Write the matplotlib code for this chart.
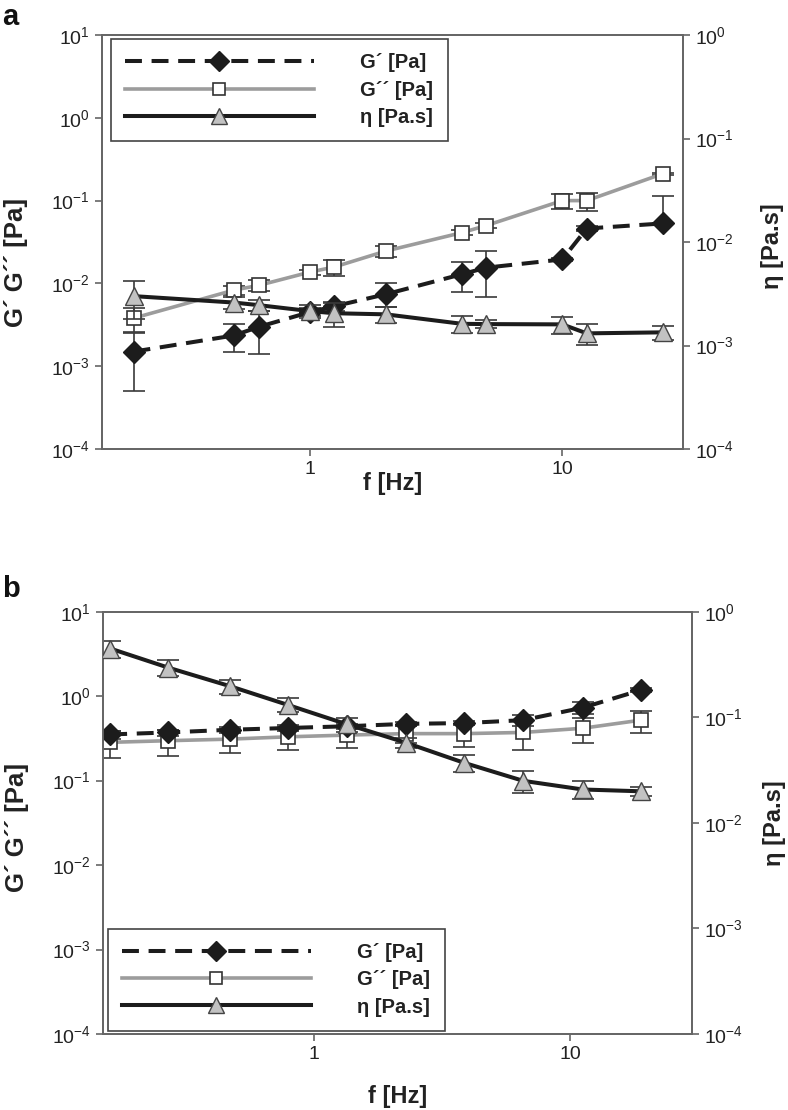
import math
import matplotlib
matplotlib.use('Agg')
import matplotlib.pyplot as plt
from matplotlib.lines import Line2D
from matplotlib.ticker import FixedLocator, FuncFormatter, NullLocator

plt.rcParams['font.family'] = ['Liberation Sans', 'DejaVu Sans']
plt.rcParams['mathtext.fontset'] = 'custom'
plt.rcParams['mathtext.rm'] = 'Liberation Sans'
plt.rcParams['mathtext.it'] = 'Liberation Sans:italic'
plt.rcParams['mathtext.bf'] = 'Liberation Sans:bold'

# ---------------- Panel a data ----------------
freq_a = [0.2, 0.5, 0.63, 1.0, 1.25, 2.0, 4.0, 5.0, 10.0, 12.5, 25.0]
gp_a = [1.5e-3, 2.35e-3, 3.0e-3, 4.5e-3, 5.3e-3, 7.4e-3, 1.29e-2, 1.55e-2, 1.95e-2, 4.6e-2, 5.3e-2]
gp_a_err_lo = [1.0e-3, 0.85e-3, 1.6e-3, 0.5e-3, 0.6e-3, 2.2e-3, 5.0e-3, 8.7e-3, 1.0e-3, 3.0e-3, 0.0]
gp_a_err_hi = [1.0e-3, 0.85e-3, 1.6e-3, 0.5e-3, 0.6e-3, 2.8e-3, 5.0e-3, 9.0e-3, 1.0e-3, 3.0e-3, 6.0e-2]
gpp_a = [3.8e-3, 8.3e-3, 9.5e-3, 1.37e-2, 1.58e-2, 2.46e-2, 4.1e-2, 5.0e-2, 0.10, 0.10, 0.211]
gpp_a_err = [1.2e-3, 1.0e-3, 1.5e-3, 1.0e-3, 3.5e-3, 4.0e-3, 3.0e-3, 3.0e-3, 2.0e-2, 2.5e-2, 5.0e-3]
eta_a = [3.0e-3, 2.6e-3, 2.45e-3, 2.15e-3, 2.05e-3, 2.0e-3, 1.62e-3, 1.61e-3, 1.6e-3, 1.31e-3, 1.34e-3]
eta_a_err = [1.2e-3, 0.35e-3, 0.3e-3, 0.3e-3, 0.55e-3, 0.35e-3, 0.3e-3, 0.15e-3, 0.3e-3, 0.3e-3, 0.2e-3]

# ---------------- Panel b data ----------------
freq_b = [0.16, 0.27, 0.47, 0.79, 1.34, 2.28, 3.86, 6.56, 11.2, 18.9]
gp_b = [0.352, 0.372, 0.40, 0.42, 0.44, 0.47, 0.48, 0.52, 0.73, 1.18]
gp_b_err = [0.04, 0.03, 0.03, 0.03, 0.03, 0.03, 0.03, 0.08, 0.12, 0.06]
gpp_b = [0.284, 0.297, 0.31, 0.33, 0.346, 0.36, 0.36, 0.372, 0.417, 0.52]
gpp_b_err = [0.10, 0.10, 0.10, 0.10, 0.10, 0.08, 0.11, 0.14, 0.14, 0.15]
eta_b = [0.448, 0.295, 0.197, 0.131, 0.086, 0.0575, 0.037, 0.025, 0.0207, 0.0199]
eta_b_err = [0.08, 0.05, 0.03, 0.02, 0.013, 0.006, 0.007, 0.006, 0.004, 0.002]

left_ticks = [1e-4, 1e-3, 1e-2, 1e-1, 1e0, 1e1]
right_ticks = [1e-4, 1e-3, 1e-2, 1e-1, 1e0]
x_ticks = [1, 10]
x_tick_labels = ['1', '10']
labels = ['G\u00b4 [Pa]', 'G\u00b4\u00b4 [Pa]', '\u03b7 [Pa.s]']

C_DARK = '#1c1c1c'
C_GREY = '#9c9c9c'
C_ERR = '#3a3a3a'
C_SPINE = '#666666'
C_TEXT = '#222222'
DASH = (0, (4.2, 2.4))


def powfmt(v, pos):
    e = int(round(math.log10(v)))
    return r'$\mathregular{10^{%d}}$' % e


def style_axis(ax):
    for s in ax.spines.values():
        s.set_color(C_SPINE)
        s.set_linewidth(1.3)
    ax.tick_params(which='major', direction='out', length=5, width=1.2,
                   color=C_SPINE, labelsize=14, labelcolor=C_TEXT)
    ax.tick_params(which='minor', length=0)


def panel(ax, freq, gp, gpe, gpp, gppe, eta, etae, xlim, legend_loc, legend_anchor):
    ax.set_xscale('log')
    ax.set_yscale('log')
    ax.set_xlim(*xlim)
    ax.set_ylim(1e-4, 1e1)
    ax.errorbar(freq, gpp, yerr=gppe, fmt='none', ecolor=C_ERR, elinewidth=1.2,
                capsize=8, capthick=1.2, zorder=2)
    ax.plot(freq, gpp, color=C_GREY, lw=2.6, marker='s', ms=10, mfc='white',
            mec='#333333', mew=1.2, zorder=3)
    ax.errorbar(freq, gp, yerr=gpe, fmt='none', ecolor=C_ERR, elinewidth=1.2,
                capsize=8, capthick=1.2, zorder=4)
    ax.plot(freq, gp, color=C_DARK, lw=2.9, ls=DASH, marker='D', ms=11.5,
            mfc=C_DARK, mec=C_DARK, zorder=5)
    ax.xaxis.set_major_locator(FixedLocator(x_ticks))
    ax.xaxis.set_major_formatter(FuncFormatter(
        lambda v, p: x_tick_labels[x_ticks.index(v)] if v in x_ticks else ''))
    ax.xaxis.set_minor_locator(NullLocator())
    ax.yaxis.set_major_locator(FixedLocator(left_ticks))
    ax.yaxis.set_major_formatter(FuncFormatter(powfmt))
    ax.yaxis.set_minor_locator(NullLocator())
    style_axis(ax)
    ax.set_xlabel('f [Hz]', fontsize=17, fontweight='bold', color=C_TEXT)
    ax.set_ylabel('G\u00b4 G\u00b4\u00b4 [Pa]', fontsize=18.5, fontweight='bold', color=C_TEXT)

    ax2 = ax.twinx()
    ax2.set_yscale('log')
    ax2.set_ylim(1e-4, 1e0)
    ax2.errorbar(freq, eta, yerr=etae, fmt='none', ecolor=C_ERR, elinewidth=1.2,
                 capsize=8, capthick=1.2, zorder=2)
    ax2.plot(freq, eta, color=C_DARK, lw=2.9, marker='^', ms=12.5, mfc='#c2c2c2',
             mec='#444444', mew=1.0, zorder=3)
    ax2.yaxis.set_major_locator(FixedLocator(right_ticks))
    ax2.yaxis.set_major_formatter(FuncFormatter(powfmt))
    ax2.yaxis.set_minor_locator(NullLocator())
    style_axis(ax2)
    ax2.set_ylabel('\u03b7 [Pa.s]', fontsize=17, fontweight='bold', color=C_TEXT)

    handles = [
        Line2D([], [], color=C_DARK, lw=2.9, ls=DASH, marker='D', ms=10, mfc=C_DARK, mec=C_DARK),
        Line2D([], [], color=C_GREY, lw=2.6, marker='s', ms=9, mfc='white', mec='#333333', mew=1.2),
        Line2D([], [], color=C_DARK, lw=2.9, marker='^', ms=11, mfc='#c2c2c2', mec='#444444', mew=1.0),
    ]
    leg = ax2.legend(handles, labels, loc=legend_loc, bbox_to_anchor=legend_anchor,
                     borderaxespad=0, fancybox=False, framealpha=1, edgecolor='#444444',
                     handlelength=9.4, handletextpad=2.3, borderpad=0.7, labelspacing=0.42,
                     prop={'size': 14.5, 'weight': 'bold'})
    leg.get_frame().set_linewidth(1.2)
    for t in leg.get_texts():
        t.set_color(C_TEXT)
    return ax2


fig = plt.figure(figsize=(7.88, 11.10), dpi=100)
W, H = 788.0, 1110.0

axa = fig.add_axes([102 / W, 1 - 449 / H, (682.7 - 102) / W, (449 - 35) / H])
axa2 = panel(axa, freq_a, gp_a, [gp_a_err_lo, gp_a_err_hi], gpp_a, gpp_a_err, eta_a, eta_a_err,
             (0.15, 30), 'upper left', (0.015, 0.99))
axa.yaxis.set_label_coords(-0.128, 0.45)
axa2.yaxis.set_label_coords(1.135, 0.49)
axa.xaxis.set_label_coords(0.5, -0.055)

axb = fig.add_axes([103 / W, 1 - 1034 / H, (692.3 - 103) / W, (1034 - 611.7) / H])
axb2 = panel(axb, freq_b, gp_b, gp_b_err, gpp_b, gpp_b_err, eta_b, eta_b_err,
             (0.15, 30), 'lower left', (0.008, 0.008))
axb.yaxis.set_label_coords(-0.125, 0.49)
axb2.yaxis.set_label_coords(1.12, 0.5)
axb.xaxis.set_label_coords(0.5, -0.12)

fig.text(2 / W, 1 - 3 / H, 'a', fontsize=21, fontweight='bold', ha='left', va='top', color='#111111')
fig.text(2 / W, 1 - 575 / H, 'b', fontsize=21, fontweight='bold', ha='left', va='top', color='#111111')

fig.savefig('out.png', dpi=100)
